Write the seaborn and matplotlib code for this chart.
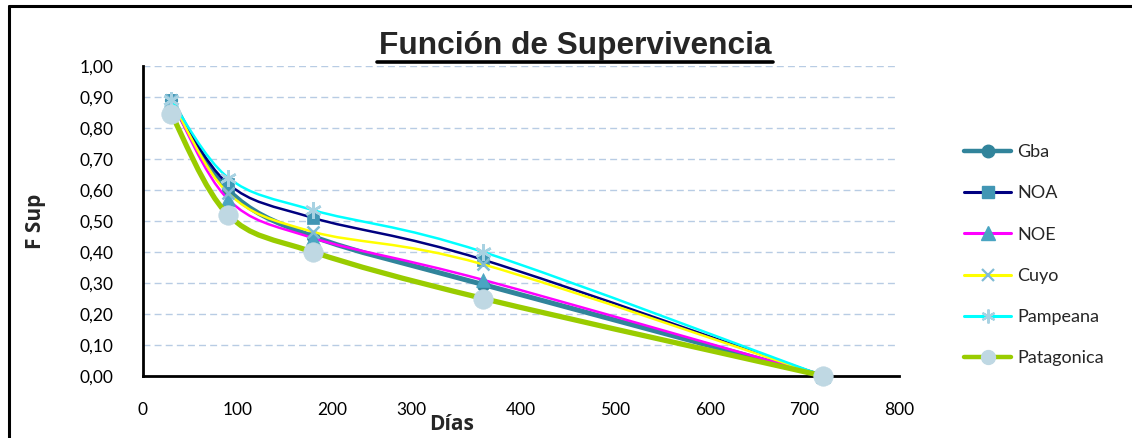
import numpy as np
import pandas as pd
import seaborn as sns
import matplotlib
matplotlib.use("Agg")
import matplotlib.pyplot as plt
from matplotlib.path import Path
from matplotlib.patches import PathPatch
from matplotlib.lines import Line2D
from matplotlib.ticker import FuncFormatter, MultipleLocator

# ---- data ----
dias = [30, 90, 180, 360, 720]
gba = [0.89, 0.60, 0.45, 0.295, 0.0]
noa = [0.89, 0.62, 0.51, 0.375, 0.0]
noe = [0.89, 0.57, 0.445, 0.31, 0.0]
cuyo = [0.89, 0.59, 0.465, 0.36, 0.0]
pampeana = [0.89, 0.64, 0.535, 0.40, 0.0]
patagonica = [0.845, 0.52, 0.40, 0.25, 0.0]
series_names = ["Gba", "NOA", "NOE", "Cuyo", "Pampeana", "Patagonica"]
series_vals = [gba, noa, noe, cuyo, pampeana, patagonica]
x_ticks = [0, 100, 200, 300, 400, 500, 600, 700, 800]
x_tick_labels = ["0", "100", "200", "300", "400", "500", "600", "700", "800"]

# ---- styles ----
styles = {
    "Gba":        dict(lc="#31849b", lw=3.6, m="o", mc="#31849b", ms=9),
    "NOA":        dict(lc="#000080", lw=1.8, m="s", mc="#4196b4", ms=9),
    "NOE":        dict(lc="#ff00ff", lw=1.8, m="^", mc="#4aa5c2", ms=10),
    "Cuyo":       dict(lc="#ffff00", lw=1.8, m="x", mc="#80bcd4", ms=9),
    "Pampeana":   dict(lc="#00ffff", lw=1.8, m="*", mc="#a8d2e2", ms=0),
    "Patagonica": dict(lc="#99cc00", lw=3.8, m="o", mc="#bfd8e3", ms=14),
}

sns.set_style("white")
plt.rcParams["font.family"] = ["Lato", "DejaVu Sans"]

fig = plt.figure(figsize=(11.32, 4.38), dpi=100)
W, H = 1132, 438
ax = fig.add_axes([143 / W, 1 - 376 / H, 756 / W, 310 / H])

# outer border (left and top edges visible)
fig.add_artist(Line2D([9 / W, 9 / W], [0, 1 - 6 / H], color="black", linewidth=2.2,
                      transform=fig.transFigure))
fig.add_artist(Line2D([9 / W, 1], [1 - 6 / H, 1 - 6 / H], color="black", linewidth=2.2,
                      transform=fig.transFigure))

df = pd.DataFrame({"dias": dias * len(series_names),
                   "valor": sum(series_vals, []),
                   "serie": np.repeat(series_names, len(dias))})


def smooth_path(xs, ys):
    pts = np.column_stack([xs, ys]).astype(float)
    n = len(pts)
    verts = [pts[0]]
    codes = [Path.MOVETO]
    for i in range(n - 1):
        p0 = pts[i - 1] if i > 0 else pts[i]
        p1 = pts[i]
        p2 = pts[i + 1]
        p3 = pts[i + 2] if i + 2 < n else pts[i + 1]
        c1 = p1 + (p2 - p0) / 6.0
        c2 = p2 - (p3 - p1) / 6.0
        verts += [c1, c2, p2]
        codes += [Path.CURVE4] * 3
    return Path(verts, codes)


for z, name in enumerate(series_names):
    st = styles[name]
    sub = df[df["serie"] == name]
    patch = PathPatch(smooth_path(sub["dias"].values, sub["valor"].values), facecolor="none",
                      edgecolor=st["lc"], linewidth=st["lw"], capstyle="round",
                      joinstyle="round", zorder=3 + 2 * z, clip_on=False)
    ax.add_patch(patch)
    if name == "Pampeana":
        ax.plot(sub["dias"], sub["valor"], linestyle="none", marker=(6, 2, 0), markersize=12,
                markeredgecolor=st["mc"], markeredgewidth=1.8, zorder=4 + 2 * z, clip_on=False)
    elif name == "Cuyo":
        ax.plot(sub["dias"], sub["valor"], linestyle="none", marker="x", markersize=st["ms"],
                markeredgecolor=st["mc"], markeredgewidth=1.8, zorder=4 + 2 * z, clip_on=False)
    else:
        sns.scatterplot(data=sub, x="dias", y="valor", ax=ax, marker=st["m"], s=st["ms"] ** 2,
                        color=st["mc"], edgecolor=st["mc"], linewidth=0.5, zorder=4 + 2 * z,
                        legend=False, clip_on=False)

ax.set_xlim(0, 800)
ax.set_ylim(0, 1.0)
ax.set_xticks(x_ticks)
ax.set_xticklabels(x_tick_labels)
ax.yaxis.set_major_locator(MultipleLocator(0.1))
ax.yaxis.set_major_formatter(FuncFormatter(lambda v, p: f"{v:.2f}".replace(".", ",")))
ax.grid(axis="y", color="#b8cce4", linestyle=(0, (5, 3)), linewidth=1.0)
ax.grid(axis="x", visible=False)
for s in ["top", "right"]:
    ax.spines[s].set_visible(False)
for s in ["left", "bottom"]:
    ax.spines[s].set_color("black")
    ax.spines[s].set_linewidth(2.0)
    ax.spines[s].set_zorder(2.5)
ax.tick_params(axis="both", direction="out", length=5, width=2, color="black",
               labelsize=12.5, labelcolor="black")
ax.tick_params(axis="x", pad=14)
ax.tick_params(axis="y", pad=16)
ax.set_axisbelow(True)

# in the reference the "300" label is nudged left, next to the axis title
for lbl in ax.get_xticklabels():
    if lbl.get_text() == "300":
        lbl.set_horizontalalignment("right")

ax.set_ylabel("F Sup", fontsize=15, fontweight="bold", family=["Open Sans", "DejaVu Sans"])
ax.yaxis.set_label_coords((46 - 143) / 756, 0.5)
ax.set_xlabel("Días", fontsize=15, fontweight="bold", family=["Open Sans", "DejaVu Sans"])
ax.xaxis.set_label_coords((452 - 143) / 756, -38 / 310)

fig.text(575 / W, 1 - 54 / H, "Función de Supervivencia", ha="center", va="baseline",
         fontsize=22.8, fontweight="bold", family=["Liberation Sans", "DejaVu Sans"])
fig.add_artist(Line2D([377 / W, 773 / W], [1 - 62 / H, 1 - 62 / H], color="black",
                      linewidth=2.6, transform=fig.transFigure))

handles = []
for name in series_names:
    st = styles[name]
    if name == "Pampeana":
        h = Line2D([], [], color=st["lc"], linewidth=2.2, marker=(6, 2, 0), markersize=10,
                   markeredgecolor=st["mc"], markeredgewidth=1.6)
    elif name == "Cuyo":
        h = Line2D([], [], color=st["lc"], linewidth=2.2, marker="x", markersize=8,
                   markeredgecolor=st["mc"], markeredgewidth=1.6)
    else:
        h = Line2D([], [], color=st["lc"], linewidth=3.2 if st["lw"] > 3 else 2.2, marker=st["m"],
                   markersize=min(st["ms"], 10), markerfacecolor=st["mc"], markeredgecolor=st["mc"])
    handles.append(h)

fig.legend(handles, series_names, loc="upper left", bbox_to_anchor=(955 / W, 1 - 135 / H),
           frameon=False, fontsize=13, handlelength=2.6, labelspacing=1.4,
           handletextpad=0.35, borderpad=0)

fig.savefig("out.png", dpi=100)
